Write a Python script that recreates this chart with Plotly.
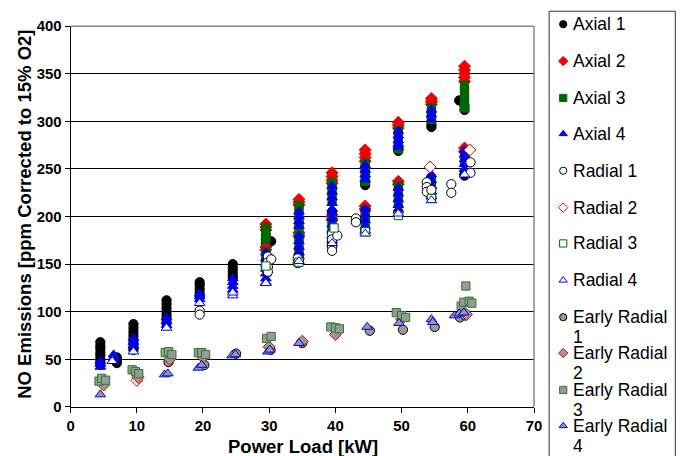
import plotly.graph_objects as go

# ---------------- data: power load [kW] and NO [ppm @ 15% O2] ----------------
AXIAL1_KW = [4.5]*8 + [7.0]*3 + [9.5]*8 + [14.5]*7 + [19.5]*5 + [24.5]*5 + [29.5]*3 + [30.3] + [29.5]*2 \
    + [34.5]*3 + [39.5]*3 + [44.5]*3 + [49.5]*3 + [54.5]*3 + [58.7] + [59.5]*4
AXIAL1_NO = [68, 64, 61, 57, 54, 50, 47, 44] + [46, 49, 52] + [87, 83, 79, 75, 71, 67, 63, 60] \
    + [112, 108, 104, 100, 96, 92, 88] + [131, 128, 124, 120, 116] + [150, 146, 142, 138, 135] \
    + [180, 176, 172] + [174] + [150, 145] + [160, 155, 152] + [205, 175, 171] + [236, 233, 185] \
    + [272, 269, 205] + [297, 294, 220] + [322] + [316, 312, 245, 243]

AXIAL2_KW = [29.5]*5 + [34.5]*5 + [39.5]*6 + [44.5]*6 + [49.5]*5 + [54.5]*3 + [59.5]*7
AXIAL2_NO = [192, 189, 186, 168, 165] + [218, 215, 212, 183, 180] + [246, 242, 238, 235, 200, 197] \
    + [270, 266, 262, 258, 211, 208] + [299, 296, 293, 237, 234] + [324, 321, 318] \
    + [358, 354, 350, 346, 342, 272, 268]

AXIAL3_KW = [29.5]*7 + [34.5]*10 + [39.5]*8 + [44.5]*8 + [49.5]*9 + [54.5]*8 + [59.5]*8
AXIAL3_NO = [188, 184, 180, 176, 163, 158, 153] + [211, 206, 201, 196, 191, 187, 178, 172, 165, 160] \
    + [236, 231, 226, 221, 216, 196, 190, 185] + [256, 251, 246, 241, 237, 206, 200, 194] \
    + [290, 285, 280, 275, 271, 232, 226, 220, 214] + [314, 310, 306, 302, 240, 234, 228, 222] \
    + [338, 333, 328, 323, 318, 314, 262, 258]

AXIAL4_KW = [4.5]*3 + [6.5]*3 + [9.5]*3 + [14.5]*3 + [19.5]*3 + [24.5]*4 + [29.5]*7 + [34.5]*9 \
    + [39.5]*11 + [44.5]*9 + [49.5]*10 + [54.5]*8 + [59.5]*6
AXIAL4_NO = [48, 45, 42] + [55, 52, 50] + [72, 68, 64] + [94, 90, 86] + [119, 116, 113] \
    + [135, 131, 127, 123] + [162, 156, 150, 145, 140, 135, 131] \
    + [205, 200, 195, 190, 180, 174, 168, 162, 158] \
    + [232, 226, 220, 214, 208, 204, 198, 192, 186, 180, 175] \
    + [254, 249, 244, 239, 208, 202, 196, 190, 185] \
    + [290, 285, 280, 276, 273, 230, 224, 218, 212, 207] \
    + [312, 307, 302, 244, 238, 232, 226, 221] + [270, 265, 260, 255, 250, 246]

RADIAL1_KW = [19.5, 19.5, 29.8, 29.8, 29.8, 29.8, 30.3, 34.3, 34.3, 39.5, 39.5, 39.5, 39.5, 40.3,
              43.1, 43.1, 53.8, 53.8, 53.8, 54.5, 57.5, 57.5, 60.4, 60.4]
RADIAL1_NO = [101, 97, 158, 152, 147, 142, 155, 156, 151, 182, 176, 168, 164, 180,
              198, 194, 236, 231, 226, 228, 234, 225, 257, 246]

RADIAL2_KW = [10.0, 54.3, 60.3]
RADIAL2_NO = [28, 252, 270]

RADIAL3_KW = [29.5, 34.5, 39.8, 44.5, 49.5, 54.5]
RADIAL3_NO = [148, 152, 188, 184, 201, 219]

RADIAL4_KW = [6.3, 9.5, 14.5, 19.5, 24.5, 24.5, 29.5, 34.5, 39.5, 44.5, 49.5, 54.5, 59.5]
RADIAL4_NO = [48, 58, 83, 109, 117, 120, 130, 153, 172, 182, 203, 217, 244]

EARLY1_KW = [4.8, 14.8, 20.2, 25.0, 30.2, 35.0, 40.3, 45.2, 50.2, 55.0, 58.8, 59.6]
EARLY1_NO = [27, 47, 44, 56, 60, 67, 81, 80, 81, 84, 94, 96]

EARLY2_KW = [5.0, 10.2, 15.0, 20.0, 30.0, 35.0, 40.0, 50.0, 59.8]
EARLY2_NO = [23, 31, 50, 52, 63, 69, 76, 92, 97]

EARLY3_KW = [4.3, 4.7, 5.3, 9.3, 9.8, 10.3, 14.3, 14.8, 15.3, 19.3, 19.8, 20.4, 29.6, 30.3,
             39.3, 40.0, 40.6, 49.2, 50.0, 50.6, 59.0, 59.4, 59.7, 60.2, 60.6]
EARLY3_NO = [27, 30, 28, 39, 37, 35, 57, 58, 55, 57, 57, 55, 72, 74,
             84, 83, 82, 99, 96, 94, 106, 110, 127, 111, 109]

EARLY4_KW = [4.5, 14.2, 14.7, 19.3, 19.8, 24.4, 24.9, 29.8, 30.1, 34.5, 44.8, 49.6, 54.5, 54.7,
             58.0, 58.7, 59.4]
EARLY4_NO = [13, 34, 35, 41, 44, 54, 55, 58, 60, 67, 84, 88, 92, 89, 96, 98, 99]

X_TICKS = [0, 10, 20, 30, 40, 50, 60, 70]
Y_TICKS = [0, 50, 100, 150, 200, 250, 300, 350, 400]

X_TITLE = "Power Load [kW]"
Y_TITLE = "NO Emissions [ppm Corrected to 15% O2]"

# ---------------- page geometry ----------------
W, H = 684, 456                    # figure size
BODY_PAD = 8                       # page-body margin around the figure
SX = W / (W + 2 * BODY_PAD)        # page -> view scale, horizontal
SY = H / (H + 2 * BODY_PAD)        # page -> view scale, vertical
DX = 3                             # small horizontal calibration of the view
K = 2 / (SX + SY)                  # size correction for fonts and markers


def fx(p):
    """view x pixel -> paper fraction"""
    return ((p + DX) / SX - BODY_PAD) / W


def fy(p):
    """view y pixel -> paper fraction (measured from the bottom)"""
    return 1 - (p / SY - BODY_PAD) / H


GREEN = "#006600"
GREY = "#999999"
FONT = "Arial, Liberation Sans, sans-serif"

SERIES = [
    ("Axial 1", AXIAL1_KW, AXIAL1_NO, "circle", "black", "black", 9),
    ("Axial 2", AXIAL2_KW, AXIAL2_NO, "diamond", "#ee0000", "#ee0000", 9),
    ("Axial 3", AXIAL3_KW, AXIAL3_NO, "square", GREEN, GREEN, 8),
    ("Axial 4", AXIAL4_KW, AXIAL4_NO, "triangle-up", "#0000ee", "#0000ee", 9),
    ("Radial 1", RADIAL1_KW, RADIAL1_NO, "circle", "white", "black", 9),
    ("Radial 2", RADIAL2_KW, RADIAL2_NO, "diamond", "white", "#ee0000", 9),
    ("Radial 3", RADIAL3_KW, RADIAL3_NO, "square", "white", GREEN, 8),
    ("Radial 4", RADIAL4_KW, RADIAL4_NO, "triangle-up", "white", "#0000ee", 9),
    ("Early Radial 1", EARLY1_KW, EARLY1_NO, "circle", GREY, "black", 9),
    ("Early Radial 2", EARLY2_KW, EARLY2_NO, "diamond", GREY, "#ee0000", 9),
    ("Early Radial 3", EARLY3_KW, EARLY3_NO, "square", GREY, "#2a7a2a", 8),
    ("Early Radial 4", EARLY4_KW, EARLY4_NO, "triangle-up", GREY, "#0000ee", 9),
]

# plot-area corners, axis-title anchors and legend geometry, in view pixels
PX_L, PX_R, PX_T, PX_B = 71, 532, 25, 407
Y_TITLE_X, Y_TITLE_Y = 25, 214
X_TITLE_X, X_TITLE_Y = 302, 447
LEG_L, LEG_R, LEG_T = 547, 677, 10
KEY_X, TEXT_X = 561, 570
ROW_Y = [23, 60, 97, 133, 170, 207, 243, 280, 317, 353, 390, 426]

fig = go.Figure()

for name, xs, ys, sym, fill, edge, size in SERIES:
    fig.add_trace(go.Scatter(
        x=xs, y=ys, mode="markers", name=name, showlegend=False,
        marker=dict(symbol=sym, color=fill, size=size * K,
                    line=dict(color=edge, width=1)),
        xaxis="x", yaxis="y",
    ))

# legend keys on an overlay axis scaled in view pixels
for (name, xs, ys, sym, fill, edge, size), ry in zip(SERIES, ROW_Y):
    fig.add_trace(go.Scatter(
        x=[KEY_X], y=[ry], mode="markers", showlegend=False, hoverinfo="skip",
        cliponaxis=False,
        marker=dict(symbol=sym, color=fill, size=7 * K, line=dict(color=edge, width=1)),
        xaxis="x2", yaxis="y2",
    ))
    words = name.split(" ")
    if name.startswith("Early"):
        lines = [" ".join(words[:2]), words[2]]
    else:
        lines = [name]
    for k, line in enumerate(lines):
        fig.add_annotation(x=TEXT_X, y=ry + 20 * k, xref="x2", yref="y2", text=line,
                           showarrow=False, xanchor="left", yanchor="middle", borderpad=0,
                           font=dict(family=FONT, size=17 * K, color="black"))

tick_font = dict(family=FONT, size=14.5 * K, color="black", weight="bold")
title_font = dict(family=FONT, size=18 * K, color="black", weight="bold")

# axis titles
fig.add_annotation(x=Y_TITLE_X, y=Y_TITLE_Y, xref="x2", yref="y2", text=Y_TITLE,
                   textangle=-90, showarrow=False, xanchor="center", yanchor="middle",
                   borderpad=0, font=title_font)
fig.add_annotation(x=X_TITLE_X, y=X_TITLE_Y, xref="x2", yref="y2", text=X_TITLE,
                   showarrow=False, xanchor="center", yanchor="middle",
                   borderpad=0, font=title_font)

fig.add_shape(type="rect", xref="paper", yref="paper",
              x0=fx(LEG_L), x1=min(fx(LEG_R), 0.999), y0=-0.2, y1=fy(LEG_T),
              line=dict(color="#333333", width=1), fillcolor="rgba(0,0,0,0)", layer="below")

# grey frame along the top and right of the plot area
fig.add_shape(type="line", xref="paper", yref="paper",
              x0=fx(PX_L), x1=fx(PX_R), y0=fy(PX_T), y1=fy(PX_T),
              line=dict(color="#888888", width=1.5), layer="above")
fig.add_shape(type="line", xref="paper", yref="paper",
              x0=fx(PX_R), x1=fx(PX_R), y0=fy(PX_B), y1=fy(PX_T),
              line=dict(color="#888888", width=1.5), layer="above")

fig.update_layout(
    width=W, height=H,
    margin=dict(l=0, r=0, t=0, b=0),
    paper_bgcolor="white", plot_bgcolor="rgba(0,0,0,0)",
    showlegend=False,
    xaxis=dict(domain=[fx(PX_L), fx(PX_R)], range=[0, 70], tickvals=X_TICKS,
               ticks="outside", ticklen=5, tickcolor="black", tickwidth=1,
               showline=True, linecolor="black", linewidth=1, showgrid=False,
               zeroline=False, tickfont=tick_font, anchor="y"),
    yaxis=dict(domain=[fy(PX_B), fy(PX_T)], range=[0, 400], tickvals=Y_TICKS,
               ticks="outside", ticklen=5, tickcolor="black", tickwidth=1,
               showline=True, linecolor="black", linewidth=1,
               showgrid=True, gridcolor="black", gridwidth=1,
               zeroline=False, tickfont=tick_font, anchor="x"),
    xaxis2=dict(domain=[0, 1], range=[BODY_PAD * SX - DX, (W + BODY_PAD) * SX - DX],
                visible=False, anchor="y2", fixedrange=True),
    yaxis2=dict(domain=[0, 1], range=[(H + BODY_PAD) * SY, BODY_PAD * SY], visible=False,
                anchor="x2", fixedrange=True),
)

fig.write_html("out.html")
